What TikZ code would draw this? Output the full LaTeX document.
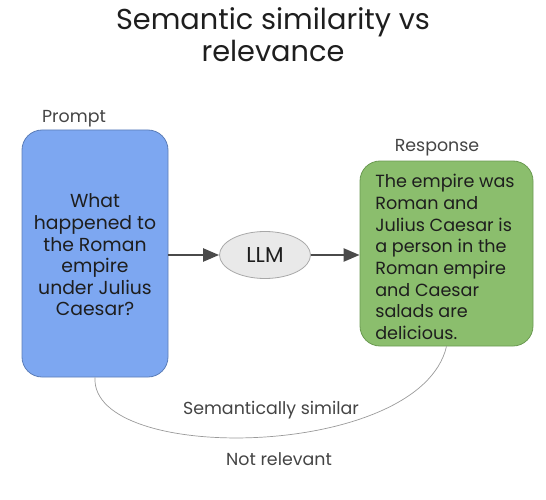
\documentclass[tikz,border=0pt]{standalone}
\usepackage{fontspec}
\setmainfont{Poppins}
\usetikzlibrary{arrows.meta,shapes.geometric}
\definecolor{promptfill}{HTML}{7DA7F1}
\definecolor{promptline}{HTML}{5B7DB8}
\definecolor{respfill}{HTML}{8BBE6D}
\definecolor{respline}{HTML}{6B9A52}
\definecolor{llmfill}{HTML}{E9E9E9}
\definecolor{llmline}{HTML}{A8A8A8}
\definecolor{arrowc}{HTML}{4A4A4A}
\definecolor{labelc}{HTML}{444444}
\definecolor{textc}{HTML}{1E1E1E}
\definecolor{curvec}{HTML}{9A9A9A}
\tikzset{
  box/.style={draw, rounded corners=20pt, line width=0.8pt, inner sep=0pt, text=textc},
  lbl/.style={font=\fontsize{17.4}{20}\selectfont, text=labelc, inner sep=0pt},
  flow/.style={draw=arrowc, line width=2.3pt, -{Triangle[length=16pt,width=13pt]}},
}
\begin{document}
\begin{tikzpicture}[x=1pt,y=-1pt]
\useasboundingbox (0,0) rectangle (546,500);
\node[font=\fontsize{28.8}{32}\selectfont, align=center, text=textc, inner sep=0pt] (title) at (273,35) {Semantic similarity vs\\relevance};
\node[box, fill=promptfill, draw=promptline, minimum width=146pt, minimum height=247pt] (prompt) at (95,253.5) {};
\node[align=center, font=\fontsize{18.8}{21.6}\selectfont, text=textc, inner sep=0pt] (ptext) at (95,255) {What\\happened to\\the Roman\\empire\\under Julius\\Caesar?};
\node[box, fill=respfill, draw=respline, minimum width=173pt, minimum height=185pt] (resp) at (446.5,253.5) {};
\node[align=left, font=\fontsize{17.6}{21.7}\selectfont, text=textc, inner sep=0pt] (rtext) at (445,257) {The empire was\\Roman and\\Julius Caesar is\\a person in the\\Roman empire\\and Caesar\\salads are\\delicious.};
\node[ellipse, draw=llmline, fill=llmfill, line width=0.8pt, minimum width=91pt, minimum height=47pt, inner sep=0pt, font=\fontsize{21.5}{24}\selectfont, text=textc] (llm) at (265,255) {LLM};
\node[lbl] (plbl) at (74,119) {Prompt};
\node[lbl] (rlbl) at (437,148) {Response};
\draw[flow] (prompt.east |- llm) -- (llm.west);
\draw[flow] (llm.east) -- (resp.west |- llm);
\draw[curvec, line width=0.7pt] (prompt.south) .. controls (90,465) and (420,460) .. (resp.south);
\node[lbl] (sim) at (271,410) {Semantically similar};
\node[lbl] (rel) at (279,459) {Not relevant};
\end{tikzpicture}
\end{document}
